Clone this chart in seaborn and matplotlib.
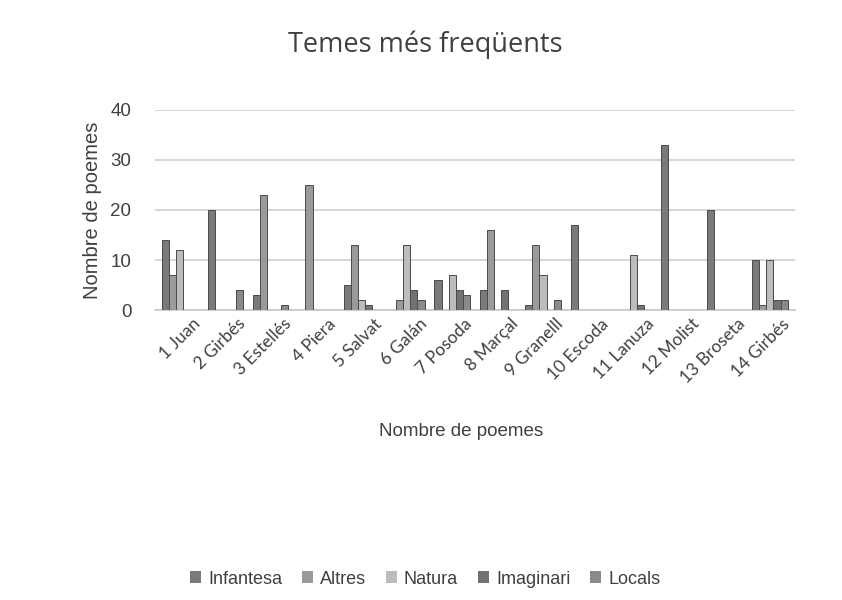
import matplotlib
matplotlib.use("Agg")
import matplotlib.pyplot as plt
import matplotlib.transforms as mtransforms
import seaborn as sns
import pandas as pd
from matplotlib.patches import Patch

authors = ["1 Juan", "2 Girbés", "3 Estellés", "4 Piera", "5 Salvat", "6 Galán", "7 Posoda",
           "8 Marçal", "9 Granelll", "10 Escoda", "11 Lanuza", "12 Molist", "13 Broseta", "14 Girbés"]
series = ["Infantesa", "Altres", "Natura", "Imaginari", "Locals"]
infantesa = [14, 20, 3, 0, 5, 0, 6, 4, 1, 17, 0, 33, 20, 10]
altres    = [7, 0, 23, 25, 13, 2, 0, 16, 13, 0, 0, 0, 0, 1]
natura    = [12, 0, 0, 0, 2, 13, 7, 0, 7, 0, 11, 0, 0, 10]
imaginari = [0, 0, 0, 0, 1, 4, 4, 4, 0, 0, 1, 0, 0, 2]
locals_   = [0, 4, 1, 0, 0, 2, 3, 0, 2, 0, 0, 0, 0, 2]

colors = ["#7a7a7a", "#9a9a9a", "#bcbcbc", "#727272", "#8a8a8a"]

rows = []
for name, vals in zip(series, [infantesa, altres, natura, imaginari, locals_]):
    for a, v in zip(authors, vals):
        rows.append({"Autor": a, "Tema": name, "Valor": v})
df = pd.DataFrame(rows)

sns.set_theme(style="white")
plt.rcParams["font.family"] = ["Liberation Sans", "DejaVu Sans"]

fig = plt.figure(figsize=(8.42, 6.0), dpi=100)
ax = fig.add_axes([0.184, 0.483, 0.76, 0.334])

sns.barplot(data=df, x="Autor", y="Valor", hue="Tema", order=authors, hue_order=series,
            palette=colors, width=0.78, edgecolor="#4a4a4a", linewidth=0.7,
            ax=ax, legend=False, zorder=3)

ax.set_ylim(0, 40)
ax.set_yticks([0, 10, 20, 30, 40])
ax.yaxis.grid(True, color="#d0d0d0", linewidth=1.2, zorder=0)
ax.set_axisbelow(True)
for s in ["top", "right", "left"]:
    ax.spines[s].set_visible(False)
ax.spines["bottom"].set_color("#c8c8c8")
ax.spines["bottom"].set_linewidth(1.2)
ax.tick_params(axis="y", labelsize=13.5, colors="#404040", length=0, pad=17)
ax.tick_params(axis="x", length=0, pad=4)
ax.set_xticks(range(len(authors)))
ax.set_xticklabels(authors, rotation=45, ha="right", va="top", rotation_mode="anchor",
                   fontsize=12.5, color="#404040", family=["Lato", "DejaVu Sans"])
shift = mtransforms.ScaledTranslation(12 / 100, 0, fig.dpi_scale_trans)
for lbl in ax.get_xticklabels():
    lbl.set_transform(lbl.get_transform() + shift)
ax.set_xlim(-0.55, len(authors) - 0.45)

ax.set_ylabel("Nombre de poemes", fontsize=14.5, color="#404040", labelpad=6)
ax.set_xlabel("")
fig.text(0.547, 0.28, "Nombre de poemes", ha="center", va="center", fontsize=13.5, color="#404040")

fig.text(0.505, 0.925, "Temes més freqüents", ha="center", va="center", fontsize=19.5,
         color="#404040", family=["Open Sans", "DejaVu Sans"])

handles = [Patch(facecolor=c, edgecolor="none", label=s) for c, s in zip(colors, series)]
fig.legend(handles=handles, loc="center", bbox_to_anchor=(0.505, 0.035), ncol=5, frameon=False,
           fontsize=13, handlelength=0.6, handleheight=0.6, handletextpad=0.4, columnspacing=1.1,
           labelcolor="#404040")

fig.savefig("out.png", dpi=100, facecolor="white")
